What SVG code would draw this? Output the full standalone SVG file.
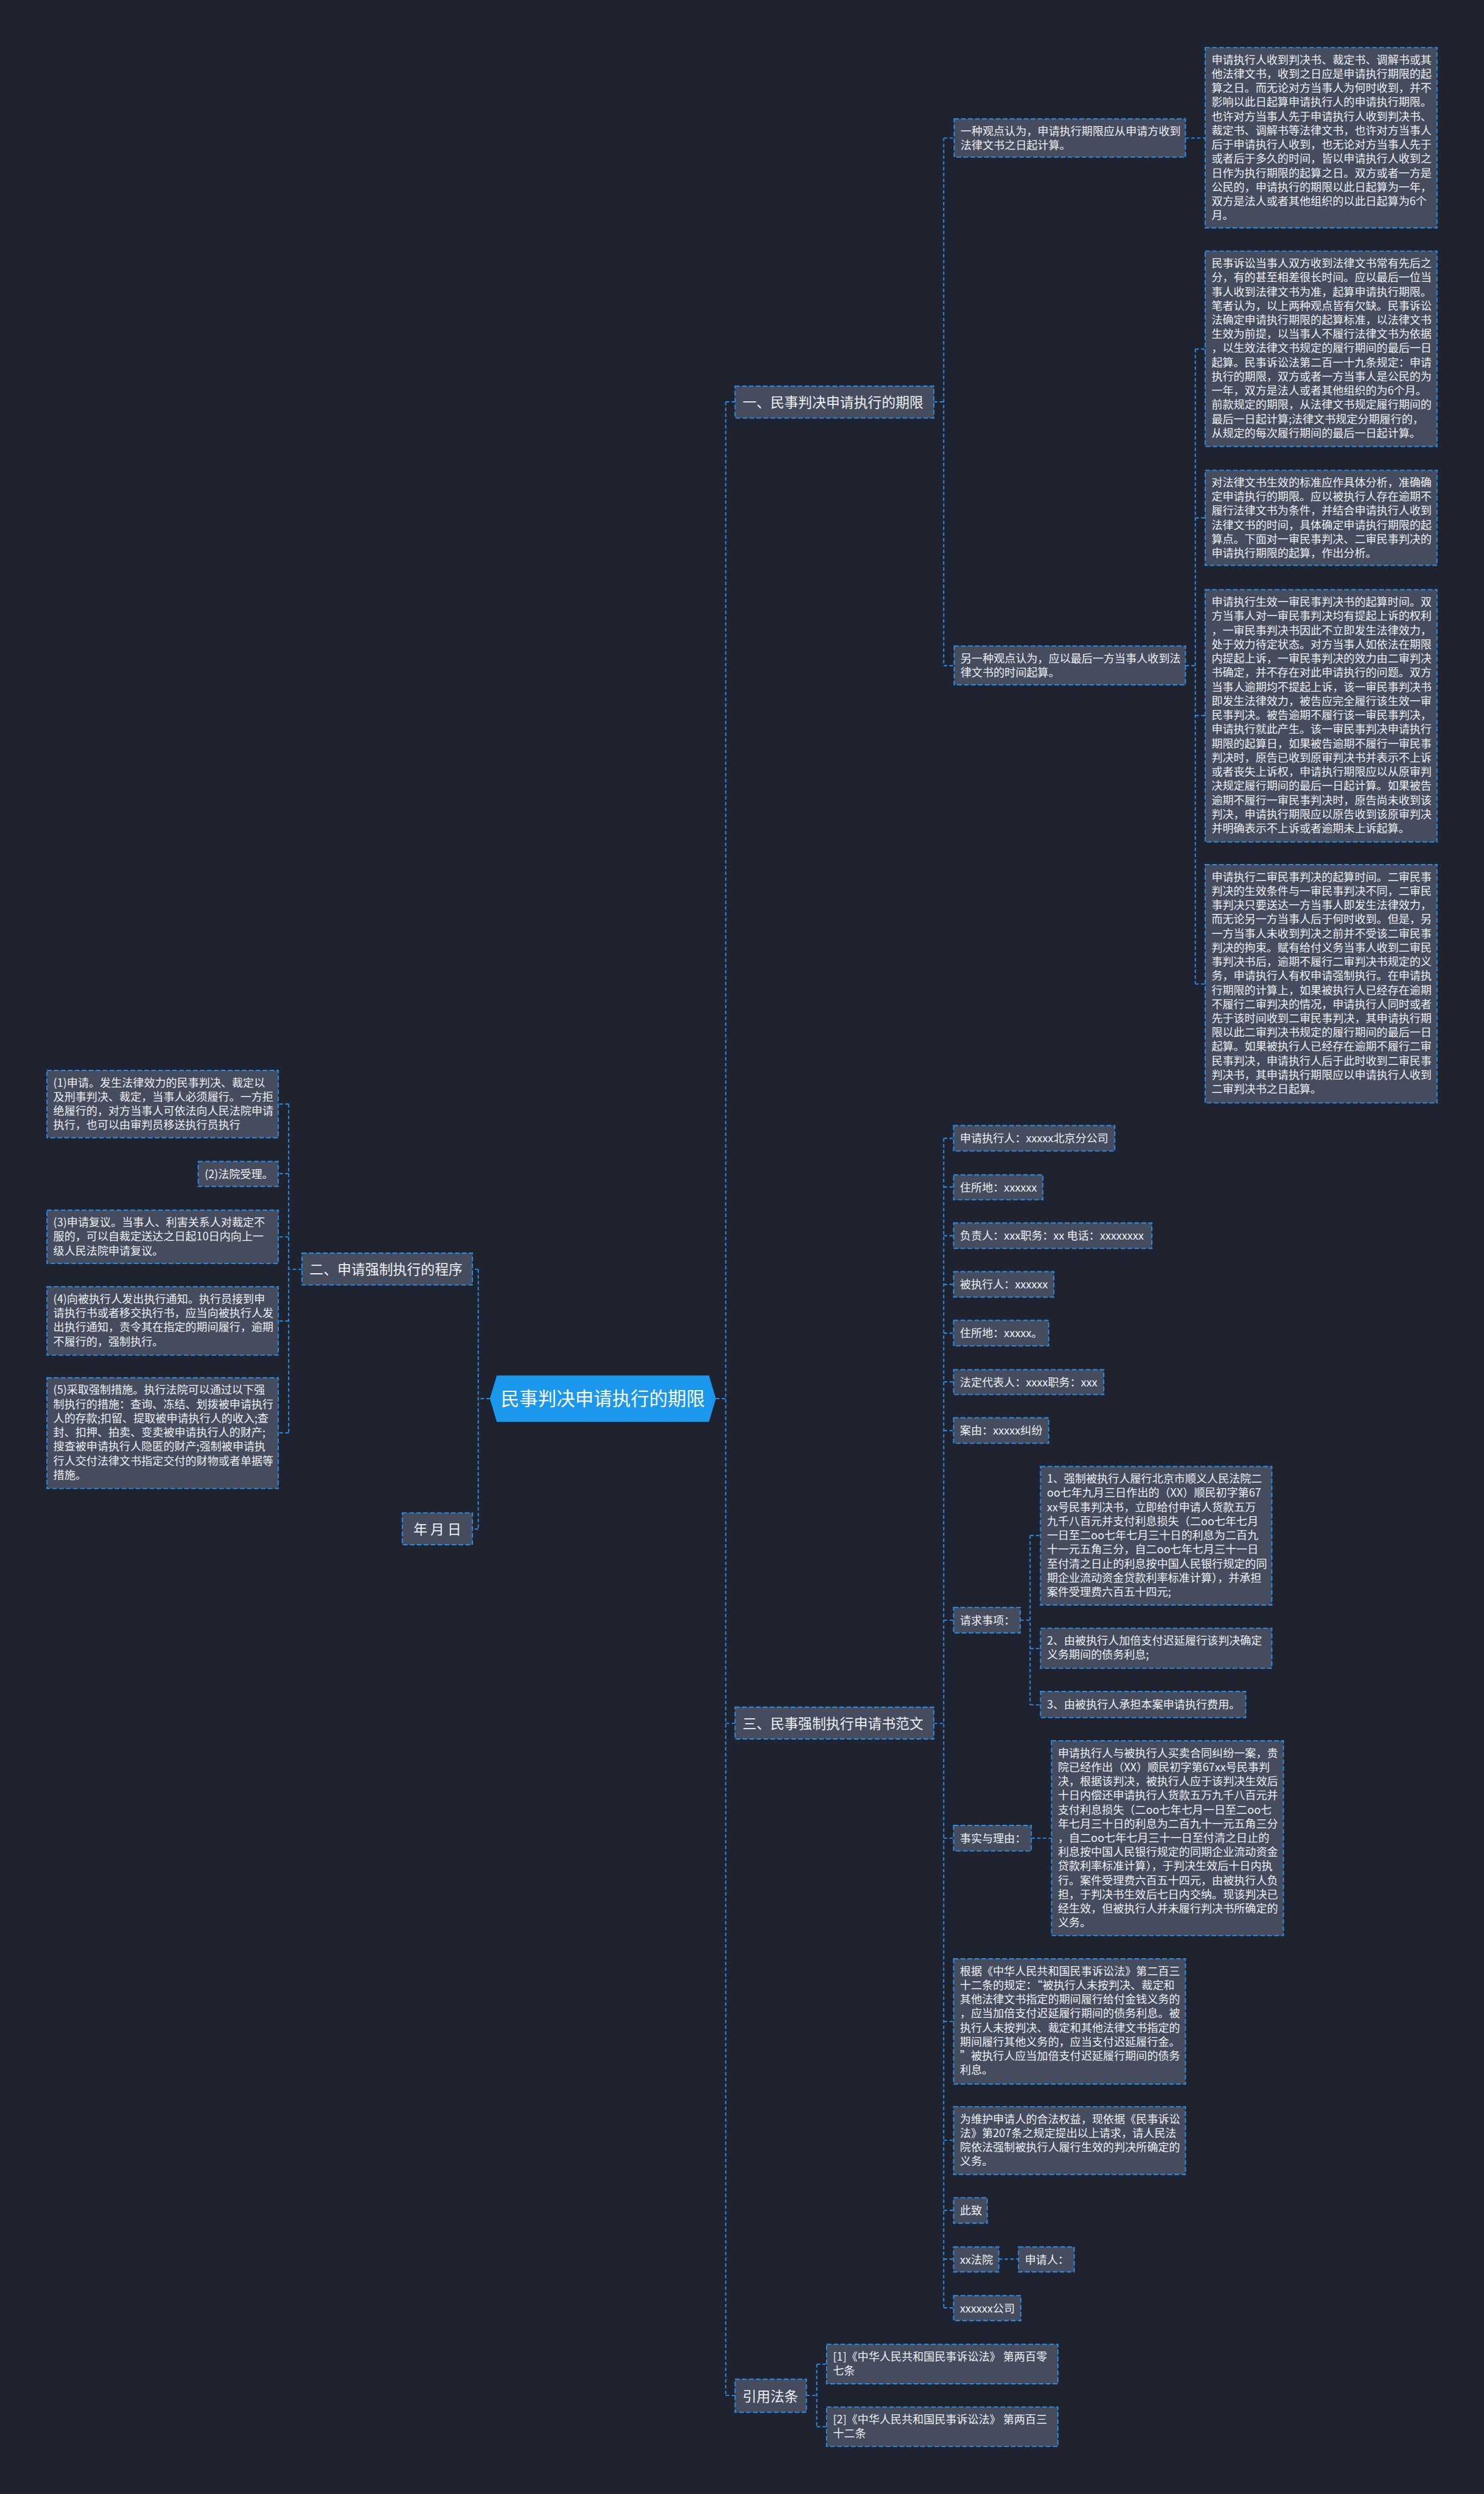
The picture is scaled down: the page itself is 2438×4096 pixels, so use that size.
<svg xmlns="http://www.w3.org/2000/svg" width="2438" height="4096" viewBox="0 0 2438 4096">
<style>
.bg{fill:#1f2330}
.n rect{fill:#454c5d;stroke:#2a8ee8;stroke-width:2;stroke-dasharray:8 4}
.t{font-family:"Noto Sans CJK SC","Noto Sans",sans-serif;font-size:19px;fill:#eef0f4}
.t1{font-family:"Noto Sans CJK SC","Noto Sans",sans-serif;font-size:24px;fill:#eef0f4}
.tr{font-family:"Noto Sans CJK SC","Noto Sans",sans-serif;font-size:32px;fill:#ffffff}
.c{fill:none;stroke:#2a8ee8;stroke-width:2;stroke-dasharray:6 4}
</style>
<rect class="bg" x="0" y="0" width="2438" height="4096"/>
<g transform="scale(0.95234)">
<g id="connectors">
<path class="c" d="M1235,2412H1252M1252,693V4131M1252,693H1268M1252,2972H1268M1252,4131H1268"/>
<path class="c" d="M1611,693H1628M1628,238V1148M1628,238H1646M1628,1148H1646"/>
<path class="c" d="M2045,238H2079"/>
<path class="c" d="M2045,1148H2062M2062,602V1697M2062,602H2079M2062,893H2079M2062,1234H2079M2062,1697H2079"/>
<path class="c" d="M845,2412H825M825,2189V2637M825,2189H815M825,2637H815"/>
<path class="c" d="M521,2189H498M498,1904V2472M498,1904H480M498,2024H480M498,2133H480M498,2278H480M498,2471H480"/>
<path class="c" d="M1611,2972H1628M1628,1963V3980M1628,1963H1645M1628,2047H1645M1628,2131H1645M1628,2215H1645M1628,2299H1645M1628,2383H1645M1628,2467H1645M1628,2794H1645M1628,3170H1645M1628,3486H1645M1628,3691H1645M1628,3812H1645M1628,3896H1645M1628,3980H1645"/>
<path class="c" d="M1760,2794H1777M1777,2648V2940M1777,2648H1795M1777,2843H1795M1777,2940H1795"/>
<path class="c" d="M1779,3170H1814"/>
<path class="c" d="M1723,3896H1757"/>
<path class="c" d="M1391,4131H1409M1409,4077V4185M1409,4077H1426M1409,4185H1426"/>
</g>

<g id="root">
<polygon points="845,2412 857,2372 1223,2372 1235,2412 1223,2452 857,2452" fill="#1b97ec"/>
<text class="tr" x="1040" y="2424" text-anchor="middle">民事判决申请执行的期限</text>
</g>

<g id="b1" class="n"><rect x="1268" y="666" width="343" height="55"/><text class="t1" x="1281" y="703">一、民事判决申请执行的期限</text></g>
<g id="b2" class="n"><rect x="521" y="2161" width="294" height="55"/><text class="t1" x="534" y="2198">二、申请强制执行的程序</text></g>
<g id="b3" class="n"><rect x="694" y="2609" width="121" height="55"/><text class="t1" x="754.5" y="2646" text-anchor="middle">年 月 日</text></g>
<g id="b4" class="n"><rect x="1268" y="2944" width="343" height="55"/><text class="t1" x="1281" y="2981">三、民事强制执行申请书范文</text></g>
<g id="b5" class="n"><rect x="1268" y="4103" width="123" height="57"/><text class="t1" x="1281" y="4141">引用法条</text></g>

<g id="v1" class="n"><rect x="1646" y="205" width="399" height="66"/><text class="t" x="1657" y="233"><tspan x="1657">一种观点认为，申请执行期限应从申请方收到</tspan><tspan x="1657" dy="24.4">法律文书之日起计算。</tspan></text></g>
<g id="v2" class="n"><rect x="1646" y="1114" width="399" height="67"/><text class="t" x="1657" y="1142"><tspan x="1657">另一种观点认为，应以最后一方当事人收到法</tspan><tspan x="1657" dy="24.4">律文书的时间起算。</tspan></text></g>

<g id="l1" class="n"><rect x="2079" y="82" width="400" height="311"/><text class="t" x="2090" y="110"><tspan x="2090">申请执行人收到判决书、裁定书、调解书或其</tspan><tspan x="2090" dy="24.4">他法律文书，收到之日应是申请执行期限的起</tspan><tspan x="2090" dy="24.4">算之日。而无论对方当事人为何时收到，并不</tspan><tspan x="2090" dy="24.4">影响以此日起算申请执行人的申请执行期限。</tspan><tspan x="2090" dy="24.4">也许对方当事人先于申请执行人收到判决书、</tspan><tspan x="2090" dy="24.4">裁定书、调解书等法律文书，也许对方当事人</tspan><tspan x="2090" dy="24.4">后于申请执行人收到，也无论对方当事人先于</tspan><tspan x="2090" dy="24.4">或者后于多久的时间，皆以申请执行人收到之</tspan><tspan x="2090" dy="24.4">日作为执行期限的起算之日。双方或者一方是</tspan><tspan x="2090" dy="24.4">公民的，申请执行的期限以此日起算为一年，</tspan><tspan x="2090" dy="24.4">双方是法人或者其他组织的以此日起算为6个</tspan><tspan x="2090" dy="24.4">月。</tspan></text></g>

<g id="l2" class="n"><rect x="2079" y="433" width="400" height="337"/><text class="t" x="2090" y="461"><tspan x="2090">民事诉讼当事人双方收到法律文书常有先后之</tspan><tspan x="2090" dy="24.4">分，有的甚至相差很长时间。应以最后一位当</tspan><tspan x="2090" dy="24.4">事人收到法律文书为准，起算申请执行期限。</tspan><tspan x="2090" dy="24.4">笔者认为，以上两种观点皆有欠缺。民事诉讼</tspan><tspan x="2090" dy="24.4">法确定申请执行期限的起算标准，以法律文书</tspan><tspan x="2090" dy="24.4">生效为前提，以当事人不履行法律文书为依据</tspan><tspan x="2090" dy="24.4">，以生效法律文书规定的履行期间的最后一日</tspan><tspan x="2090" dy="24.4">起算。民事诉讼法第二百一十九条规定：申请</tspan><tspan x="2090" dy="24.4">执行的期限，双方或者一方当事人是公民的为</tspan><tspan x="2090" dy="24.4">一年，双方是法人或者其他组织的为6个月。</tspan><tspan x="2090" dy="24.4">前款规定的期限，从法律文书规定履行期间的</tspan><tspan x="2090" dy="24.4">最后一日起计算;法律文书规定分期履行的，</tspan><tspan x="2090" dy="24.4">从规定的每次履行期间的最后一日起计算。</tspan></text></g>

<g id="l3" class="n"><rect x="2079" y="811" width="400" height="164"/><text class="t" x="2090" y="839"><tspan x="2090">对法律文书生效的标准应作具体分析，准确确</tspan><tspan x="2090" dy="24.4">定申请执行的期限。应以被执行人存在逾期不</tspan><tspan x="2090" dy="24.4">履行法律文书为条件，并结合申请执行人收到</tspan><tspan x="2090" dy="24.4">法律文书的时间，具体确定申请执行期限的起</tspan><tspan x="2090" dy="24.4">算点。下面对一审民事判决、二审民事判决的</tspan><tspan x="2090" dy="24.4">申请执行期限的起算，作出分析。</tspan></text></g>

<g id="l4" class="n"><rect x="2079" y="1017" width="400" height="435"/><text class="t" x="2090" y="1045"><tspan x="2090">申请执行生效一审民事判决书的起算时间。双</tspan><tspan x="2090" dy="24.4">方当事人对一审民事判决均有提起上诉的权利</tspan><tspan x="2090" dy="24.4">，一审民事判决书因此不立即发生法律效力，</tspan><tspan x="2090" dy="24.4">处于效力待定状态。对方当事人如依法在期限</tspan><tspan x="2090" dy="24.4">内提起上诉，一审民事判决的效力由二审判决</tspan><tspan x="2090" dy="24.4">书确定，并不存在对此申请执行的问题。双方</tspan><tspan x="2090" dy="24.4">当事人逾期均不提起上诉，该一审民事判决书</tspan><tspan x="2090" dy="24.4">即发生法律效力，被告应完全履行该生效一审</tspan><tspan x="2090" dy="24.4">民事判决。被告逾期不履行该一审民事判决，</tspan><tspan x="2090" dy="24.4">申请执行就此产生。该一审民事判决申请执行</tspan><tspan x="2090" dy="24.4">期限的起算日，如果被告逾期不履行一审民事</tspan><tspan x="2090" dy="24.4">判决时，原告已收到原审判决书并表示不上诉</tspan><tspan x="2090" dy="24.4">或者丧失上诉权，申请执行期限应以从原审判</tspan><tspan x="2090" dy="24.4">决规定履行期间的最后一日起计算。如果被告</tspan><tspan x="2090" dy="24.4">逾期不履行一审民事判决时，原告尚未收到该</tspan><tspan x="2090" dy="24.4">判决，申请执行期限应以原告收到该原审判决</tspan><tspan x="2090" dy="24.4">并明确表示不上诉或者逾期未上诉起算。</tspan></text></g>

<g id="l5" class="n"><rect x="2079" y="1491" width="400" height="411"/><text class="t" x="2090" y="1519"><tspan x="2090">申请执行二审民事判决的起算时间。二审民事</tspan><tspan x="2090" dy="24.4">判决的生效条件与一审民事判决不同，二审民</tspan><tspan x="2090" dy="24.4">事判决只要送达一方当事人即发生法律效力，</tspan><tspan x="2090" dy="24.4">而无论另一方当事人后于何时收到。但是，另</tspan><tspan x="2090" dy="24.4">一方当事人未收到判决之前并不受该二审民事</tspan><tspan x="2090" dy="24.4">判决的拘束。赋有给付义务当事人收到二审民</tspan><tspan x="2090" dy="24.4">事判决书后，逾期不履行二审判决书规定的义</tspan><tspan x="2090" dy="24.4">务，申请执行人有权申请强制执行。在申请执</tspan><tspan x="2090" dy="24.4">行期限的计算上，如果被执行人已经存在逾期</tspan><tspan x="2090" dy="24.4">不履行二审判决的情况，申请执行人同时或者</tspan><tspan x="2090" dy="24.4">先于该时间收到二审民事判决，其申请执行期</tspan><tspan x="2090" dy="24.4">限以此二审判决书规定的履行期间的最后一日</tspan><tspan x="2090" dy="24.4">起算。如果被执行人已经存在逾期不履行二审</tspan><tspan x="2090" dy="24.4">民事判决，申请执行人后于此时收到二审民事</tspan><tspan x="2090" dy="24.4">判决书，其申请执行期限应以申请执行人收到</tspan><tspan x="2090" dy="24.4">二审判决书之日起算。</tspan></text></g>

<g id="p1" class="n"><rect x="81" y="1846" width="399" height="116"/><text class="t" x="92" y="1874"><tspan x="92">(1)申请。发生法律效力的民事判决、裁定以</tspan><tspan x="92" dy="24.4">及刑事判决、裁定，当事人必须履行。一方拒</tspan><tspan x="92" dy="24.4">绝履行的，对方当事人可依法向人民法院申请</tspan><tspan x="92" dy="24.4">执行，也可以由审判员移送执行员执行</tspan></text></g>
<g id="p2" class="n"><rect x="342" y="2003" width="138" height="43"/><text class="t" x="353" y="2032">(2)法院受理。</text></g>
<g id="p3" class="n"><rect x="81" y="2087" width="399" height="92"/><text class="t" x="92" y="2115"><tspan x="92">(3)申请复议。当事人、利害关系人对裁定不</tspan><tspan x="92" dy="24.4">服的，可以自裁定送达之日起10日内向上一</tspan><tspan x="92" dy="24.4">级人民法院申请复议。</tspan></text></g>
<g id="p4" class="n"><rect x="81" y="2219" width="399" height="118"/><text class="t" x="92" y="2247"><tspan x="92">(4)向被执行人发出执行通知。执行员接到申</tspan><tspan x="92" dy="24.4">请执行书或者移交执行书，应当向被执行人发</tspan><tspan x="92" dy="24.4">出执行通知，责令其在指定的期间履行，逾期</tspan><tspan x="92" dy="24.4">不履行的，强制执行。</tspan></text></g>
<g id="p5" class="n"><rect x="81" y="2376" width="399" height="191"/><text class="t" x="92" y="2404"><tspan x="92">(5)采取强制措施。执行法院可以通过以下强</tspan><tspan x="92" dy="24.4">制执行的措施：查询、冻结、划拨被申请执行</tspan><tspan x="92" dy="24.4">人的存款;扣留、提取被申请执行人的收入;查</tspan><tspan x="92" dy="24.4">封、扣押、拍卖、变卖被申请执行人的财产;</tspan><tspan x="92" dy="24.4">搜查被申请执行人隐匿的财产;强制被申请执</tspan><tspan x="92" dy="24.4">行人交付法律文书指定交付的财物或者单据等</tspan><tspan x="92" dy="24.4">措施。</tspan></text></g>

<g id="s1" class="n"><rect x="1645" y="1941" width="278" height="44"/><text class="t" x="1656" y="1970">申请执行人：xxxxx北京分公司</text></g>
<g id="s2" class="n"><rect x="1645" y="2026" width="154" height="43"/><text class="t" x="1656" y="2055">住所地：xxxxxx</text></g>
<g id="s3" class="n"><rect x="1645" y="2109" width="342" height="44"/><text class="t" x="1656" y="2138">负责人：xxx职务：xx 电话：xxxxxxxx</text></g>
<g id="s4" class="n"><rect x="1645" y="2193" width="173" height="44"/><text class="t" x="1656" y="2222">被执行人：xxxxxx</text></g>
<g id="s5" class="n"><rect x="1645" y="2277" width="164" height="44"/><text class="t" x="1656" y="2306">住所地：xxxxx。</text></g>
<g id="s6" class="n"><rect x="1645" y="2362" width="259" height="43"/><text class="t" x="1656" y="2391">法定代表人：xxxx职务：xxx</text></g>
<g id="s7" class="n"><rect x="1645" y="2445" width="164" height="44"/><text class="t" x="1656" y="2474">案由：xxxxx纠纷</text></g>
<g id="s8" class="n"><rect x="1645" y="2772" width="115" height="44"/><text class="t" x="1656" y="2801">请求事项：</text></g>
<g id="q1" class="n"><rect x="1795" y="2529" width="399" height="239"/><text class="t" x="1806" y="2557"><tspan x="1806">1、强制被执行人履行北京市顺义人民法院二</tspan><tspan x="1806" dy="24.4">oo七年九月三日作出的（XX）顺民初字第67</tspan><tspan x="1806" dy="24.4">xx号民事判决书，立即给付申请人货款五万</tspan><tspan x="1806" dy="24.4">九千八百元并支付利息损失（二oo七年七月</tspan><tspan x="1806" dy="24.4">一日至二oo七年七月三十日的利息为二百九</tspan><tspan x="1806" dy="24.4">十一元五角三分，自二oo七年七月三十一日</tspan><tspan x="1806" dy="24.4">至付清之日止的利息按中国人民银行规定的同</tspan><tspan x="1806" dy="24.4">期企业流动资金贷款利率标准计算），并承担</tspan><tspan x="1806" dy="24.4">案件受理费六百五十四元;</tspan></text></g>
<g id="q2" class="n"><rect x="1795" y="2808" width="399" height="69"/><text class="t" x="1806" y="2836"><tspan x="1806">2、由被执行人加倍支付迟延履行该判决确定</tspan><tspan x="1806" dy="24.4">义务期间的债务利息;</tspan></text></g>
<g id="q3" class="n"><rect x="1795" y="2917" width="354" height="45"/><text class="t" x="1806" y="2946">3、由被执行人承担本案申请执行费用。</text></g>
<g id="s9" class="n"><rect x="1645" y="3148" width="134" height="44"/><text class="t" x="1656" y="3177">事实与理由：</text></g>
<g id="f1" class="n"><rect x="1814" y="3002" width="400" height="336"/><text class="t" x="1825" y="3030"><tspan x="1825">申请执行人与被执行人买卖合同纠纷一案，贵</tspan><tspan x="1825" dy="24.4">院已经作出（XX）顺民初字第67xx号民事判</tspan><tspan x="1825" dy="24.4">决，根据该判决，被执行人应于该判决生效后</tspan><tspan x="1825" dy="24.4">十日内偿还申请执行人货款五万九千八百元并</tspan><tspan x="1825" dy="24.4">支付利息损失（二oo七年七月一日至二oo七</tspan><tspan x="1825" dy="24.4">年七月三十日的利息为二百九十一元五角三分</tspan><tspan x="1825" dy="24.4">，自二oo七年七月三十一日至付清之日止的</tspan><tspan x="1825" dy="24.4">利息按中国人民银行规定的同期企业流动资金</tspan><tspan x="1825" dy="24.4">贷款利率标准计算），于判决生效后十日内执</tspan><tspan x="1825" dy="24.4">行。案件受理费六百五十四元，由被执行人负</tspan><tspan x="1825" dy="24.4">担，于判决书生效后七日内交纳。现该判决已</tspan><tspan x="1825" dy="24.4">经生效，但被执行人并未履行判决书所确定的</tspan><tspan x="1825" dy="24.4">义务。</tspan></text></g>
<g id="s10" class="n"><rect x="1645" y="3378" width="400" height="216"/><text class="t" x="1656" y="3406"><tspan x="1656">根据《中华人民共和国民事诉讼法》第二百三</tspan><tspan x="1656" dy="24.4">十二条的规定：“被执行人未按判决、裁定和</tspan><tspan x="1656" dy="24.4">其他法律文书指定的期间履行给付金钱义务的</tspan><tspan x="1656" dy="24.4">，应当加倍支付迟延履行期间的债务利息。被</tspan><tspan x="1656" dy="24.4">执行人未按判决、裁定和其他法律文书指定的</tspan><tspan x="1656" dy="24.4">期间履行其他义务的，应当支付迟延履行金。</tspan><tspan x="1656" dy="24.4">”被执行人应当加倍支付迟延履行期间的债务</tspan><tspan x="1656" dy="24.4">利息。</tspan></text></g>
<g id="s11" class="n"><rect x="1645" y="3633" width="400" height="117"/><text class="t" x="1656" y="3661"><tspan x="1656">为维护申请人的合法权益，现依据《民事诉讼</tspan><tspan x="1656" dy="24.4">法》第207条之规定提出以上请求，请人民法</tspan><tspan x="1656" dy="24.4">院依法强制被执行人履行生效的判决所确定的</tspan><tspan x="1656" dy="24.4">义务。</tspan></text></g>
<g id="s12" class="n"><rect x="1645" y="3790" width="58" height="44"/><text class="t" x="1656" y="3819">此致</text></g>
<g id="s13" class="n"><rect x="1645" y="3875" width="78" height="43"/><text class="t" x="1656" y="3904">xx法院</text></g>
<g id="s14" class="n"><rect x="1757" y="3875" width="96" height="43"/><text class="t" x="1768" y="3904">申请人：</text></g>
<g id="s15" class="n"><rect x="1645" y="3959" width="116" height="43"/><text class="t" x="1656" y="3988">xxxxxx公司</text></g>

<g id="r1" class="n"><rect x="1426" y="4043" width="399" height="68"/><text class="t" x="1437" y="4071"><tspan x="1437">[1]《中华人民共和国民事诉讼法》 第两百零</tspan><tspan x="1437" dy="24.4">七条</tspan></text></g>
<g id="r2" class="n"><rect x="1426" y="4151" width="399" height="68"/><text class="t" x="1437" y="4179"><tspan x="1437">[2]《中华人民共和国民事诉讼法》 第两百三</tspan><tspan x="1437" dy="24.4">十二条</tspan></text></g>
</g>
</svg>
